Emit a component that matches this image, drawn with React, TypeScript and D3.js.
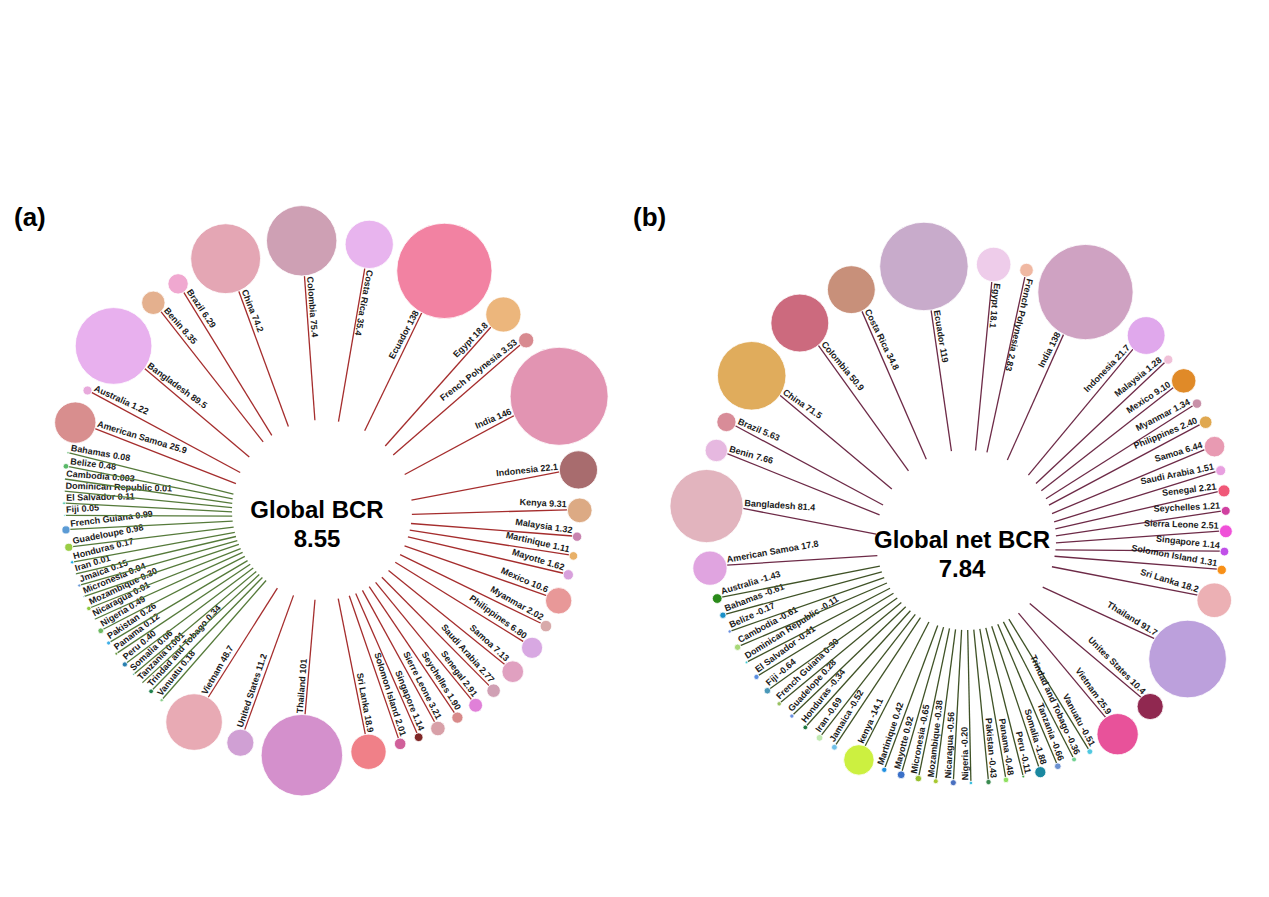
import * as d3 from 'd3';
import { useEffect, useRef } from 'react';

// panel (a) – BCR per country, listed clockwise starting at American Samoa
const bcrCountries = [
  'American Samoa', 'Australia', 'Bangladesh', 'Benin', 'Brazil', 'China', 'Colombia', 'Costa Rica',
  'Ecuador', 'Egypt', 'French Polynesia', 'India', 'Indonesia', 'Kenya', 'Malaysia', 'Martinique',
  'Mayotte', 'Mexico', 'Myanmar', 'Philippines', 'Samoa', 'Saudi Arabia', 'Senegal', 'Seychelles',
  'Sierre Leone', 'Singapore', 'Solomon Island', 'Sri Lanka', 'Thailand', 'United States', 'Vietnam',
  'Vanuatu', 'Trindad and Tobago', 'Tanzania', 'Somalia', 'Peru', 'Panama', 'Pakistan', 'Nigeria',
  'Nicaragua', 'Mozambique', 'Micronesia', 'Jmaica', 'Iran', 'Honduras', 'Guadeloupe', 'French Guiana',
  'Fiji', 'El Salvador', 'Dominican Republic', 'Cambodia', 'Belize', 'Bahamas'
];
const bcrValues = [
  25.9, 1.22, 89.5, 8.35, 6.29, 74.2, 75.4, 35.4,
  138, 18.8, 3.53, 146, 22.1, 9.31, 1.32, 1.11,
  1.62, 10.6, 2.02, 6.80, 7.13, 2.77, 2.91, 1.90,
  3.21, 1.14, 2.01, 18.9, 101, 11.2, 48.7,
  0.18, 0.34, 0.001, 0.06, 0.40, 0.12, 0.26, 0.49,
  0.01, 0.30, 0.04, 0.15, 0.01, 0.17, 0.98, 0.99,
  0.05, 0.11, 0.01, 0.003, 0.48, 0.08
];
const bcrColors = [
  '#d88e8e', '#e8aadc', '#e8b0ee', '#e4b08e', '#f0a8d0', '#e4a6b4', '#cea0b4', '#e8b4ee',
  '#f282a2', '#ecb67c', '#d88a90', '#e294b2', '#a86c6e', '#dcaa84', '#c884b0', '#e8b068',
  '#d8a0dc', '#e89898', '#d8aaaa', '#d8a8e2', '#e0a0c0', '#d0a0b4', '#e080d8', '#d88a8a',
  '#d8a0a8', '#802828', '#d0609a', '#f08088', '#d490cc', '#d0a0d4', '#e8aab4',
  '#8ccf8c', '#20804c', '#60b090', '#40b090', '#2a80b0', '#6a9a40', '#40b0e8', '#6cb860',
  '#80c060', '#90c840', '#60a0d0', '#6a9ad8', '#30b0e0', '#20b0e8', '#9acd45', '#5b9bd5',
  '#60d8d8', '#3cc0a0', '#60c080', '#60c080', '#58b868', '#58b868'
];

// panel (b) – net BCR per country, clockwise starting at American Samoa
const netCountries = [
  'American Samoa', 'Bangladesh', 'Benin', 'Brazil', 'China', 'Colombia', 'Costa Rica', 'Ecuador',
  'Egypt', 'French Polynesia', 'India', 'Indonesia', 'Malaysia', 'Mexico', 'Myanmar', 'Philippines',
  'Samoa', 'Saudi Arabia', 'Senegal', 'Seychelles', 'Sierra Leone', 'Singapore', 'Solomon Island',
  'Sri Lanka', 'Thailand', 'Unites States', 'Vietnam',
  'Vanuatu', 'Trindad and Tobago', 'Tanzania', 'Somalia', 'Peru', 'Panama', 'Pakistan', 'Nigeria',
  'Nicaragua', 'Mozambique', 'Micronesia', 'Mayotte', 'Martinique', 'kenya', 'Jamaica', 'Iran',
  'Honduras', 'Guadelope', 'French Guiana', 'Fiji', 'El Salvador', 'Dominican Republic', 'Cambodia',
  'Belize', 'Bahamas', 'Australia'
];
const netValues = [
  17.8, 81.4, 7.66, 5.63, 71.5, 50.9, 34.8, 119,
  18.1, 2.83, 138, 21.7, 1.28, 9.10, 1.34, 2.40,
  6.44, 1.51, 2.21, 1.21, 2.51, 1.14, 1.31,
  18.2, 91.7, 10.4, 25.9,
  -0.51, -0.36, -0.66, -1.88, -0.11, -0.48, -0.43, -0.20,
  -0.56, -0.38, -0.65, 0.92, 0.42, -14.1, -0.52, -0.69,
  -0.34, 0.28, 0.30, -0.64, -0.41, -0.11, -0.61,
  -0.17, -0.61, -1.43
];
const netColors = [
  '#e0a4e0', '#e2b4be', '#e6b8e0', '#d88c98', '#e0ac5c', '#cc6a7e', '#c8907a', '#c8abcb',
  '#eeccea', '#f0b8a2', '#cfa2c2', '#e0a8ec', '#f0c0d8', '#e08a28', '#c890a8', '#e0a850',
  '#e89ab2', '#e8a0e0', '#f05878', '#d040a0', '#f050d8', '#c050e8', '#f89018',
  '#ecb0b4', '#bca0dc', '#902850', '#e8529a',
  '#50c8e0', '#70d090', '#6a90d0', '#1a88a0', '#40a040', '#90e060', '#3a8a50', '#40c0e0',
  '#4a70c0', '#a8c830', '#98c030', '#3a70c8', '#2090e0', '#ccf040', '#70c0e8', '#c0e8b0',
  '#207840', '#6a90e0', '#98c060', '#4a98b8', '#5a8ee0', '#40c8d0', '#a8d878',
  '#6a8ee0', '#1a90c8', '#2a8a1a'
];

const WIDTH = 1269;
const HEIGHT = 897;
const FONT = "'Liberation Sans', Arial, sans-serif";

const radius = d3.scaleSqrt().domain([0, 146]).range([0, 49]);
const locale = d3.formatLocale({ decimal: '.', thousands: ',', grouping: [3], currency: ['', ''], minus: '-' });
const fmt = (v: number) => {
  const a = Math.abs(v);
  if (a >= 1) return locale.format('.3r')(v);
  if (a < 0.01) return locale.format('.1r')(v);
  return locale.format('.2f')(v);
};

interface PanelCfg {
  names: string[];
  values: number[];
  colors: string[];
  title: string;
  global: string;
  tag: string;
  tagX: number;
  cx: number;
  cy: number;
  R: number;
  innerOffset: number;
  startDeg: number;
  minRed: number;
  minGreen: number;
  lineRed: string;
  lineGreen: string;
  textX: number;
  textY: number;
}

function drawPanel(svg: d3.Selection<SVGSVGElement, unknown, null, undefined>, c: PanelCfg) {
  const rs = c.values.map(v => radius(Math.abs(v)));
  const pos = c.values.map(v => v >= 1);
  const n = c.values.length;
  const gaps = d3.range(n).map(i => {
    const j = (i + 1) % n;
    const min = pos[i] || pos[j] ? c.minRed : c.minGreen;
    return Math.max(min, rs[i] + rs[j] + 10);
  });
  const angle = d3.scaleLinear().domain([0, d3.sum(gaps)]).range([c.startDeg, c.startDeg + 360]);
  const cum = d3.cumsum(gaps);

  const g = svg.append('g');
  const rin = 90;

  c.values.forEach((v, i) => {
    const deg = angle(i === 0 ? 0 : cum[i - 1]);
    const t = (deg * Math.PI) / 180;
    const ux = Math.sin(t);
    const uy = -Math.cos(t);
    const r = rs[i];

    g.append('line')
      .attr('x1', c.cx + rin * ux)
      .attr('y1', c.cy + c.innerOffset + rin * uy)
      .attr('x2', c.cx + (c.R - r) * ux)
      .attr('y2', c.cy + (c.R - r) * uy)
      .attr('stroke', pos[i] ? c.lineRed : c.lineGreen)
      .attr('stroke-width', 1.3);

    g.append('circle')
      .attr('cx', c.cx + c.R * ux)
      .attr('cy', c.cy + c.R * uy)
      .attr('r', r)
      .attr('fill', c.colors[i])
      .attr('stroke', '#fff')
      .attr('stroke-width', 0.8);

    const d = ((deg % 360) + 360) % 360;
    const outward = d >= 24 && d < 176;
    const rot = outward ? d - 90 : d + 90;
    const lr = c.R - r - 1;
    g.append('text')
      .attr('transform', `translate(${c.cx + lr * ux},${c.cy + lr * uy}) rotate(${rot})`)
      .attr('text-anchor', outward ? 'end' : 'start')
      .attr('dy', -2.5)
      .attr('font-family', FONT)
      .attr('font-weight', 'bold')
      .attr('font-size', 9)
      .attr('fill', '#1a1a1a')
      .text(`${c.names[i]} ${fmt(v)}`);
  });

  const center = g.append('text')
    .attr('text-anchor', 'middle')
    .attr('font-family', FONT)
    .attr('font-weight', 'bold')
    .attr('font-size', 24)
    .attr('fill', '#000');
  center.append('tspan').attr('x', c.textX).attr('y', c.textY).text(c.title);
  center.append('tspan').attr('x', c.textX).attr('y', c.textY + 29).text(c.global);

  g.append('text')
    .attr('x', c.tagX)
    .attr('y', 226)
    .attr('font-family', FONT)
    .attr('font-weight', 'bold')
    .attr('font-size', 26)
    .attr('fill', '#000')
    .text(c.tag);
}

const App = () => {
  const ref = useRef<SVGSVGElement | null>(null);

  useEffect(() => {
    if (!ref.current) return;
    const svg = d3.select(ref.current);
    svg.selectAll('*').remove();

    drawPanel(svg, {
      names: bcrCountries, values: bcrValues, colors: bcrColors,
      title: 'Global BCR', global: '8.55', tag: '(a)', tagX: 14,
      cx: 322, cy: 498, R: 258, innerOffset: 12, startDeg: 287,
      minRed: 20, minGreen: 12.4, lineRed: '#a52d2d', lineGreen: '#557a3a',
      textX: 317, textY: 518
    });

    drawPanel(svg, {
      names: netCountries, values: netValues, colors: netColors,
      title: 'Global net BCR', global: '7.84', tag: '(b)', tagX: 633,
      cx: 966, cy: 523, R: 260, innerOffset: 17, startDeg: 260,
      minRed: 18, minGreen: 18, lineRed: '#6d2a47', lineGreen: '#3f5226',
      textX: 962, textY: 548
    });
  }, []);

  return (
    <svg
      ref={ref}
      width={WIDTH}
      height={HEIGHT}
      style={{ position: 'absolute', left: 0, top: 0, display: 'block', background: '#fff' }}
    />
  );
};

export default App;
